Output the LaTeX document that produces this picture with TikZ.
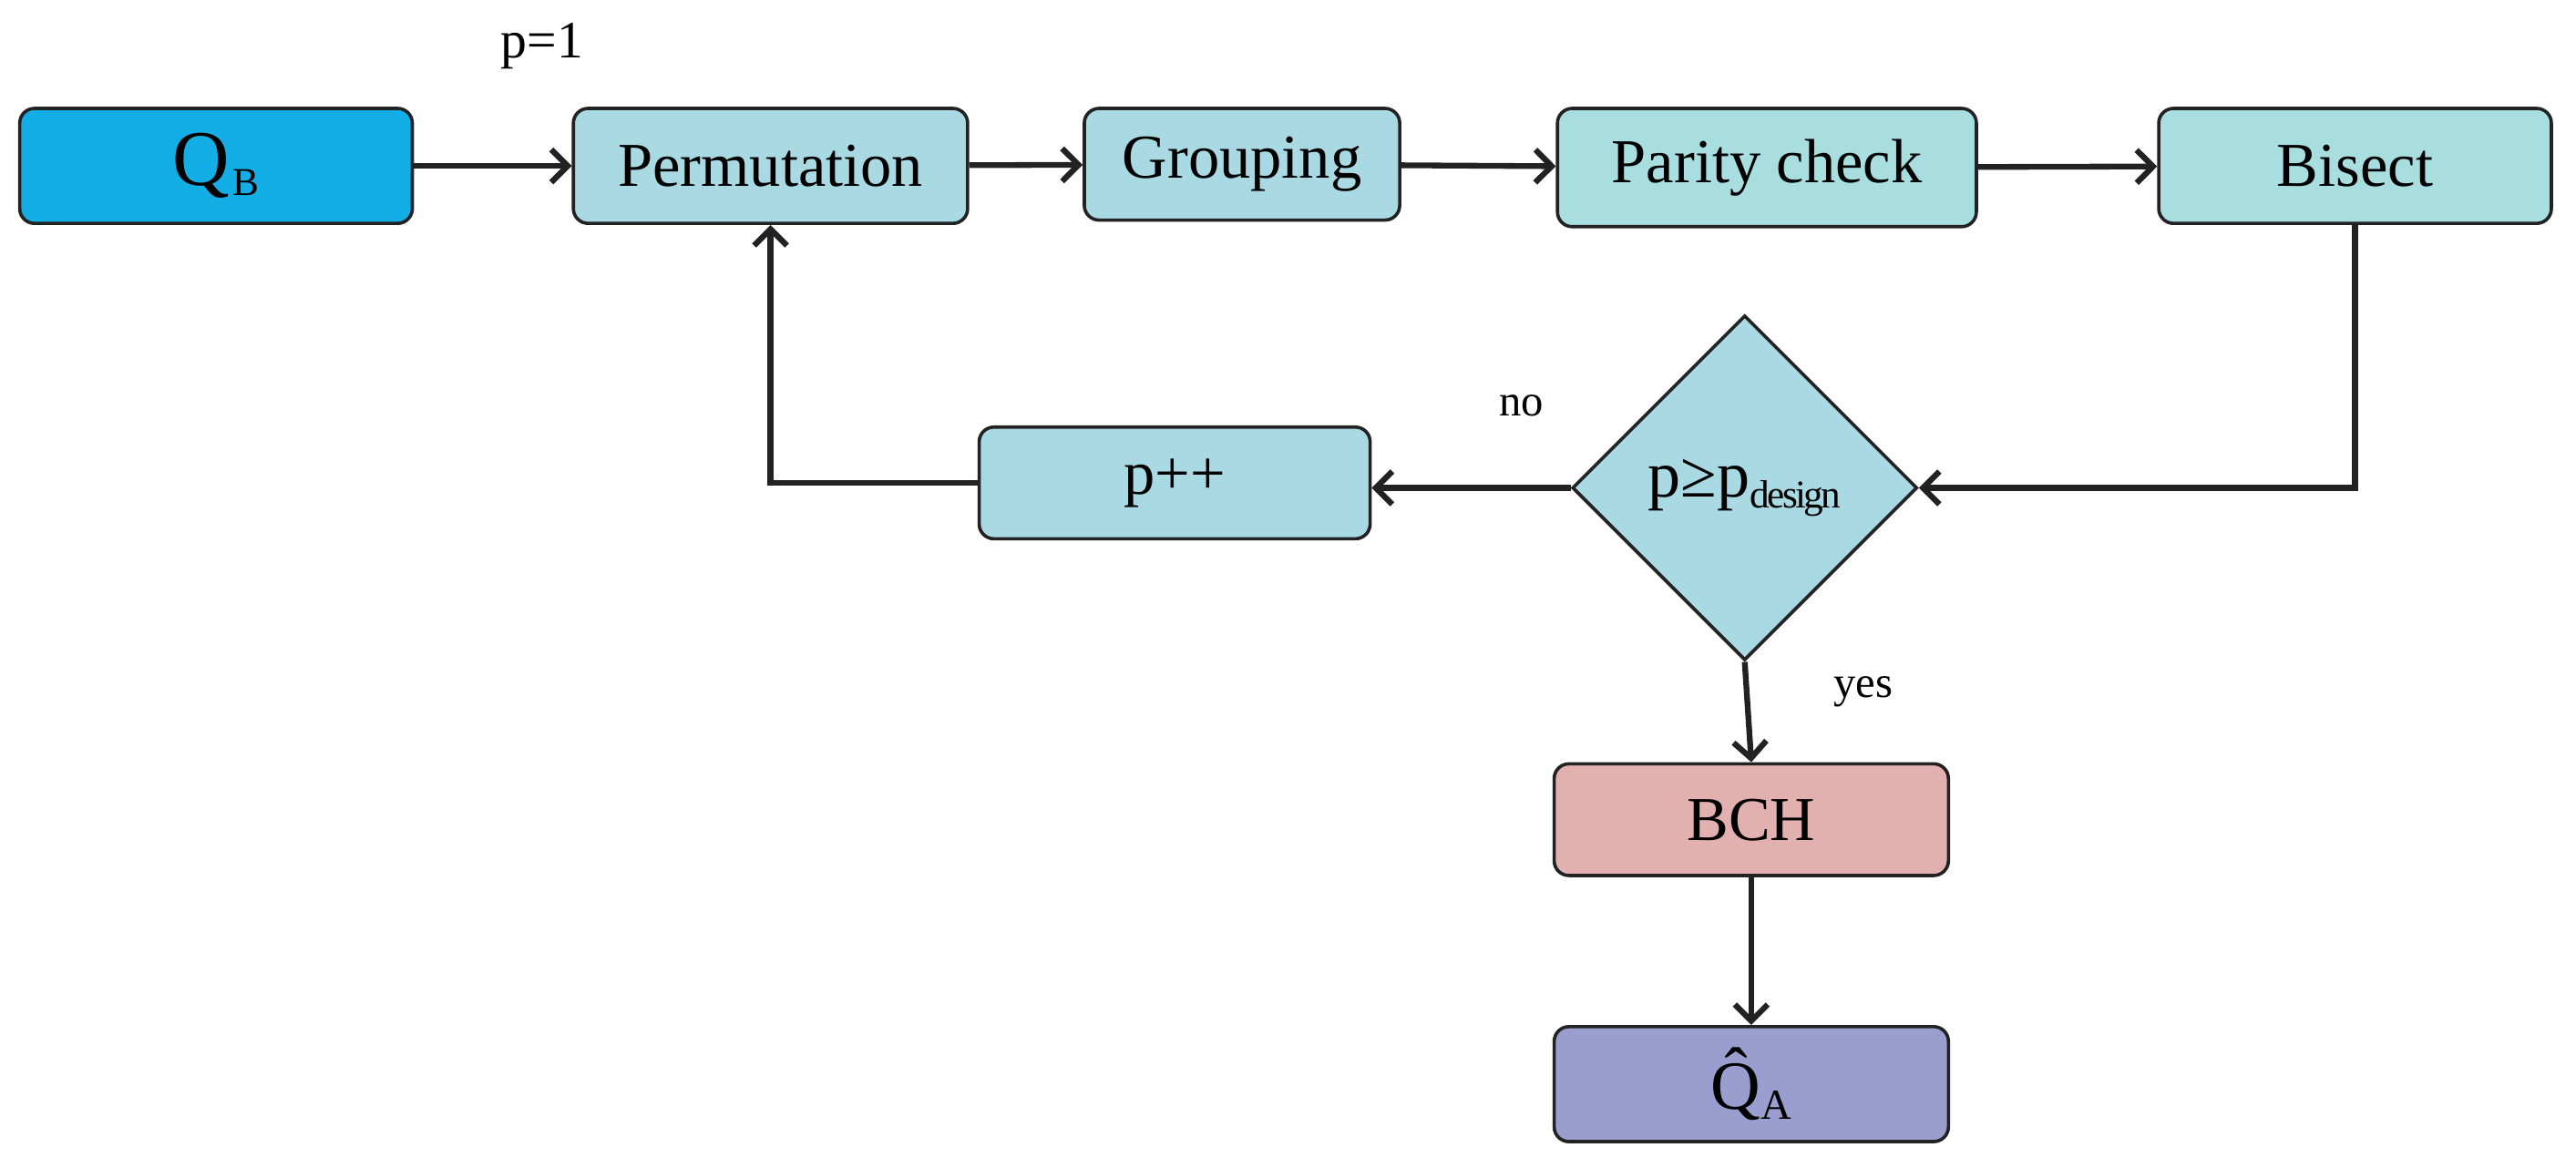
\documentclass[tikz,border=0pt]{standalone}
\usepackage{fontspec}
\setmainfont{Liberation Serif}
\usetikzlibrary{arrows.meta,shapes.geometric}
\definecolor{lb}{HTML}{A9D9E3}
\definecolor{lc}{HTML}{A8DEE0}
\definecolor{qb}{HTML}{14AEE6}
\definecolor{bch}{HTML}{E3B0B0}
\definecolor{qa}{HTML}{9A9ECF}
\definecolor{ln}{HTML}{222222}
\begin{document}
\begin{tikzpicture}[x=1pt,y=-1pt,
 box/.style={draw=ln,line width=2pt,rounded corners=9pt,minimum height=70pt,font=\fontsize{38}{40}\selectfont,inner sep=0pt},
 ar/.style={draw=ln,line width=3.5pt,-{Straight Barb[length=10pt,width=20pt,line width=3.5pt]}}]
\useasboundingbox (0,0) rectangle (1568,711);
\node[box,fill=qb,minimum width=239pt] (qb) at (131.5,101) {\fontsize{48}{50}\selectfont Q\kern2pt\raisebox{-6pt}{\fontsize{24}{26}\selectfont B}};
\node[box,fill=lb,minimum width=240pt] (perm) at (469,101) {Permutation};
\node[box,fill=lb,minimum width=192pt,minimum height=68pt] (grp) at (756,100) {Grouping};
\node[box,fill=lc,minimum width=255pt,minimum height=72pt] (par) at (1075.5,102) {Parity check};
\node[box,fill=lc,minimum width=239pt] (bis) at (1433.5,101) {Bisect};
\node[draw=ln,line width=2pt,fill=lb,diamond,minimum width=210pt,minimum height=210pt,inner sep=0pt,font=\fontsize{40}{42}\selectfont] (dia) at (1062,297) {p≥p\raisebox{-7pt}{\fontsize{24}{26}\selectfont\addfontfeature{LetterSpace=-6}design}};
\node[box,fill=lb,minimum width=238pt,minimum height=68pt] (pp) at (715,294) {p++};
\node[box,fill=bch,minimum width=240pt,minimum height=68pt] (bch) at (1066,499) {BCH};
\node[box,fill=qa,minimum width=240pt] (qa) at (1066,660) {\fontsize{42}{44}\selectfont\^{Q}\raisebox{-6pt}{\fontsize{26}{28}\selectfont A}};
\node[font=\fontsize{32}{34}\selectfont] (p1) at (330,28) {p=1};
\node[font=\fontsize{27}{29}\selectfont] (no) at (926,247) {no};
\node[font=\fontsize{27}{29}\selectfont] (yes) at (1134,421) {yes};
\draw[ar] (qb) -- (perm);
\draw[ar] (perm) -- (grp);
\draw[ar] (grp) -- (par);
\draw[ar] (par) -- (bis);
\draw[ar] (bis.south) |- (dia.east);
\draw[ar] (dia.west) -- (pp.east |- dia.west);
\draw[ar] (pp.west) -| (perm.south);
\draw[ar] (dia.south) -- (bch.north);
\draw[ar] (bch) -- (qa);
\end{tikzpicture}
\end{document}
